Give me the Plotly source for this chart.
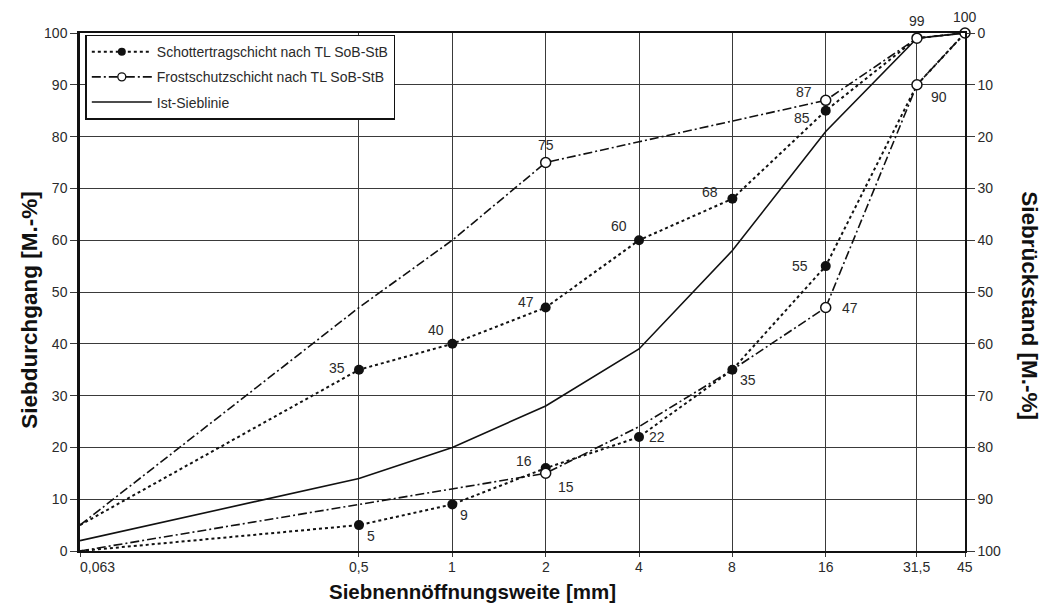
import numpy as np
import plotly.graph_objects as go

# ---- data ----
sieves = [0.063, 0.5, 1, 2, 4, 8, 16, 31.5, 45]
sieve_labels = ["0,063", "0,5", "1", "2", "4", "8", "16", "31,5", "45"]

schotter_upper = [5, 35, 40, 47, 60, 68, 85, 99, 100]
schotter_lower = [0, 5, 9, 16, 22, 35, 55, 90, 100]
frost_upper = [5, 47, 60, 75, 79, 83, 87, 99, 100]
frost_lower = [0, 9, 12, 15, 24, 35, 47, 90, 100]
ist_sieblinie = [2, 14, 20, 28, 39, 58, 81, 99, 100]

# marked (labelled) points
schotter_pts_x = [0.5, 1, 2, 4, 8, 16, 0.5, 1, 2, 4, 8, 16]
schotter_pts_y = [35, 40, 47, 60, 68, 85, 5, 9, 16, 22, 35, 55]
frost_pts_x = [2, 16, 31.5, 45, 2, 16, 31.5]
frost_pts_y = [75, 87, 99, 100, 15, 47, 90]

y_ticks = list(range(0, 101, 10))

# label offsets in px (style)
schotter_off = [(-22, 2), (-16, 14), (-20, 6), (-20, 14), (-22, 7), (-24, -7),
                (12, -11), (12, -11), (-22, 7), (18, 0), (16, -10), (-26, 0)]
frost_off = [(0, 18), (-22, 8), (0, 17), (0, 16), (20, -14), (24, 0), (22, -12)]

BLACK = "#111111"
GRID = "#3a3a3a"
TXT = "#2a2a2a"
FONT = "Arial, Liberation Sans, sans-serif"
FS = 14

fig = go.Figure()

dashdot = "9px,3px,2px,3px"

for ys in (frost_upper, frost_lower):
    fig.add_trace(go.Scatter(x=sieves, y=ys, mode="lines", showlegend=False,
                             line=dict(color=BLACK, width=1.6, dash=dashdot),
                             cliponaxis=False, hoverinfo="skip"))
for ys in (schotter_upper, schotter_lower):
    fig.add_trace(go.Scatter(x=sieves, y=ys, mode="lines", showlegend=False,
                             line=dict(color=BLACK, width=2, dash="dot"),
                             cliponaxis=False, hoverinfo="skip"))
fig.add_trace(go.Scatter(x=sieves, y=ist_sieblinie, mode="lines", showlegend=False,
                         line=dict(color=BLACK, width=1.6),
                         cliponaxis=False, hoverinfo="skip"))

fig.add_trace(go.Scatter(x=schotter_pts_x, y=schotter_pts_y, mode="markers",
                         showlegend=False, cliponaxis=False,
                         marker=dict(symbol="circle", size=10, color=BLACK)))
fig.add_trace(go.Scatter(x=frost_pts_x, y=frost_pts_y, mode="markers",
                         showlegend=False, cliponaxis=False,
                         marker=dict(symbol="circle", size=10, color="white",
                                     line=dict(color=BLACK, width=1.5))))

# legend entries
fig.add_trace(go.Scatter(x=[None], y=[None], mode="lines+markers", legendgroup="a",
                         name="Schottertragschicht nach TL SoB-StB",
                         line=dict(color=BLACK, width=2, dash="dot"),
                         marker=dict(size=8, color=BLACK)))
fig.add_trace(go.Scatter(x=[None], y=[None], mode="lines+markers", legendgroup="b",
                         name="Frostschutzschicht nach TL SoB-StB",
                         line=dict(color=BLACK, width=1.6, dash=dashdot),
                         marker=dict(size=8, color="white", line=dict(color=BLACK, width=1.3))))
fig.add_trace(go.Scatter(x=[None], y=[None], mode="lines", legendgroup="c",
                         name="Ist-Sieblinie",
                         line=dict(color=BLACK, width=1.6)))

# secondary axis trace (invisible) to activate y2
fig.add_trace(go.Scatter(x=[sieves[0]], y=[0], yaxis="y2", mode="markers",
                         marker=dict(opacity=0), showlegend=False, hoverinfo="skip"))

annotations = []
for (x, y), (dx, dy) in zip(zip(schotter_pts_x, schotter_pts_y), schotter_off):
    annotations.append(dict(x=np.log10(x), y=y, text=str(y), showarrow=False,
                            xshift=dx, yshift=dy, font=dict(size=FS, color=TXT)))
for (x, y), (dx, dy) in zip(zip(frost_pts_x, frost_pts_y), frost_off):
    annotations.append(dict(x=np.log10(x), y=y, text=str(y), showarrow=False,
                            xshift=dx, yshift=dy, font=dict(size=FS, color=TXT)))

# x tick labels
for i, (s, lab) in enumerate(zip(sieves, sieve_labels)):
    annotations.append(dict(x=np.log10(s), y=0, yref="paper", text=lab, showarrow=False,
                            xanchor="left" if i == 0 else "center", yanchor="top",
                            xshift=-2 if i == 0 else 0, yshift=-6,
                            font=dict(size=FS, color=TXT)))

annotations.append(dict(xref="paper", yref="paper", x=0.444, y=-0.052,
                        xanchor="center", yanchor="top",
                        text="<b>Siebnennöffnungsweite [mm]</b>", showarrow=False,
                        font=dict(size=20.5, color=BLACK, family=FONT)))
annotations.append(dict(xref="paper", yref="paper", x=-0.058, y=0.465,
                        xanchor="center", yanchor="middle",
                        text="<b>Siebdurchgang [M.-%]</b>", showarrow=False,
                        textangle=-90, font=dict(size=22.5, color=BLACK, family=FONT)))
annotations.append(dict(xref="paper", yref="paper", x=1.072, y=0.473,
                        xanchor="center", yanchor="middle",
                        text="<b>Siebrückstand [M.-%]</b>", showarrow=False,
                        textangle=90, font=dict(size=22.5, color=BLACK, family=FONT)))

fig.update_layout(
    width=1040, height=595,
    margin=dict(l=72, r=83, t=25, b=52),
    paper_bgcolor="white", plot_bgcolor="white",
    font=dict(family=FONT, size=FS, color=TXT),
    xaxis=dict(type="log", range=[np.log10(sieves[0]), np.log10(sieves[-1])],
               tickvals=sieves, showticklabels=False,
               showgrid=True, gridcolor=GRID, gridwidth=1.2,
               showline=True, linecolor=BLACK, linewidth=1.5, mirror=True,
               ticks="outside", ticklen=4, tickcolor=GRID,
               zeroline=False, automargin=False),
    yaxis=dict(range=[0, 100], tickvals=y_ticks,
               showgrid=True, gridcolor=GRID, gridwidth=1.2,
               showline=True, linecolor=BLACK, linewidth=2.5,
               ticks="outside", ticklen=7, tickcolor=GRID,
               tickfont=dict(size=FS, color=TXT), zeroline=False, automargin=False),
    yaxis2=dict(range=[100, 0], tickvals=y_ticks, overlaying="y", side="right",
                showgrid=False, showline=True, linecolor=BLACK, linewidth=1.5,
                ticks="outside", ticklen=8, tickcolor=GRID,
                tickfont=dict(size=FS, color=TXT), zeroline=False, automargin=False),
    legend=dict(x=0.006, y=0.997, xanchor="left", yanchor="top",
                bgcolor="white", bordercolor=BLACK, borderwidth=1.5,
                font=dict(size=FS, color=TXT), itemwidth=60,
                entrywidth=290, tracegroupgap=4),
    annotations=annotations,
    showlegend=True,
)

fig.write_html("out.html")
